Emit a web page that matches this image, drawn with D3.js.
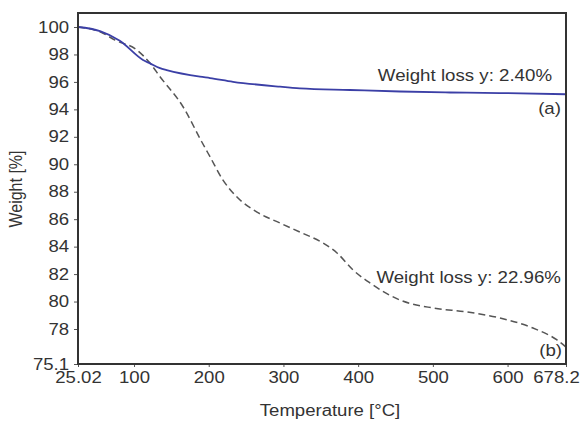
<!DOCTYPE html>
<html>
<head>
<meta charset="utf-8">
<script src="https://cdn.jsdelivr.net/npm/d3@7"></script>
<style>
  body { margin: 0; background: #fff; }
  text { font-family: "Liberation Sans", Arial, sans-serif; fill: #333; }
</style>
</head>
<body>
<svg id="chart" width="583" height="423"></svg>
<script>
// TGA curves: temperature (°C) vs. remaining weight (%)
const tempA   = [25.02, 54.5, 81, 112, 121.4, 134.8, 143.7, 188.3, 201.7, 232.5, 295.4, 322, 389, 456, 523, 590, 678.2];
const weightA = [100, 99.7, 99.0, 97.6, 97.35, 97.0, 96.86, 96.38, 96.28, 96.01, 95.65, 95.53, 95.41, 95.3, 95.23, 95.19, 95.1];

const tempB   = [25.02, 54.5, 74.5, 104, 121.4, 134.8, 165.6, 190.6, 201.7, 219.1, 237.8, 264.6, 295.4, 322.2, 353, 371.7, 393.1, 415.9, 456, 500.2, 545.7, 589.9, 634, 666.2, 678.2];
const weightB = [100, 99.65, 99.05, 98.32, 97.37, 96.38, 94.19, 91.64, 90.55, 88.85, 87.61, 86.52, 85.72, 85.06, 84.26, 83.54, 82.3, 81.35, 80.11, 79.53, 79.24, 78.8, 78.07, 77.09, 76.5];

const xTicks = [25.02, 100, 200, 300, 400, 500, 600, 678.2];
const yTicks = [100, 98, 96, 94, 92, 90, 88, 86, 84, 82, 80, 78, 75.1];

const annotations = [
  { text: "Weight loss y: 2.40%",  t: 659.5, w: 96.06, dx: 0,  size: 17, k: 1.1 },
  { text: "(a)",                   t: 678.2, w: 93.66, dx: -5, size: 17, k: 1.1 },
  { text: "Weight loss y: 22.96%", t: 678.2, w: 81.35, dx: -5, size: 17, k: 1.1 },
  { text: "(b)",                   t: 678.2, w: 75.76, dx: -4, size: 17, k: 1.1 }
];

const svg = d3.select("#chart");
const plotL = 78, plotR = 566, plotT = 13, plotB = 364;
const fs = 16;    // axis label size
const kx = 1.16;  // horizontal glyph stretch of the axis labels

const x = d3.scaleLinear().domain([25.02, 678.2]).range([plotL, plotR]);
// the axis compresses its last segment between 78 and the 75.1 minimum
const y = d3.scaleLinear().domain([75.1, 78, 101.02]).range([plotB, 329, plotT]);

function stretch(sel, k) {
  sel.each(function (d) {
    const t = d3.select(this);
    const ax = +(t.attr("x") || 0);
    const s = k || (d && d.k) || kx;
    t.attr("transform", `translate(${ax},0) scale(${s},1) translate(${-ax},0)`);
  });
}

// axes
const xAxis = svg.append("g")
  .attr("transform", `translate(0,${plotB})`)
  .call(d3.axisBottom(x).tickValues(xTicks).tickSize(3).tickPadding(5).tickFormat(d => String(d)));
const yAxis = svg.append("g")
  .attr("transform", `translate(${plotL},0)`)
  .call(d3.axisLeft(y).tickValues(yTicks).tickSize(4).tickPadding(5).tickFormat(d => String(d)));

[xAxis, yAxis].forEach(g => {
  g.select(".domain").remove();
  g.selectAll(".tick line").attr("stroke", "#555").attr("stroke-width", 1);
  g.selectAll(".tick text")
    .attr("font-size", fs)
    .attr("font-family", "Liberation Sans, Arial, sans-serif")
    .attr("fill", "#333");
});
// the last temperature label is pulled inside the frame edge
xAxis.selectAll(".tick text")
  .filter(d => d === xTicks[xTicks.length - 1])
  .attr("x", -10);
xAxis.selectAll(".tick text").call(stretch, kx);
yAxis.selectAll(".tick text").call(stretch, kx);

// curve (b): dashed grey
const line = d3.line().x(d => x(d[0])).y(d => y(d[1])).curve(d3.curveMonotoneX);
svg.append("path")
  .datum(d3.zip(tempB, weightB))
  .attr("d", line)
  .attr("fill", "none")
  .attr("stroke", "#555")
  .attr("stroke-width", 1.5)
  .attr("stroke-dasharray", "7,4");

// curve (a): solid blue
svg.append("path")
  .datum(d3.zip(tempA, weightA))
  .attr("d", line)
  .attr("fill", "none")
  .attr("stroke", "#3b3fa6")
  .attr("stroke-width", 1.8);

// plot frame
svg.append("rect")
  .attr("x", plotL).attr("y", plotT)
  .attr("width", plotR - plotL).attr("height", plotB - plotT)
  .attr("fill", "none")
  .attr("stroke", "#333")
  .attr("stroke-width", 2);

// annotations
svg.selectAll("text.note")
  .data(annotations)
  .join("text")
  .attr("class", "note")
  .attr("x", d => x(d.t) + d.dx)
  .attr("y", d => y(d.w))
  .attr("text-anchor", "end")
  .attr("font-size", d => d.size)
  .text(d => d.text)
  .call(stretch);

// axis titles
svg.append("text")
  .attr("x", 330)
  .attr("y", 416)
  .attr("text-anchor", "middle")
  .attr("font-size", fs)
  .text("Temperature [°C]")
  .call(stretch, kx);

svg.append("text")
  .attr("transform", `translate(22,189) scale(${kx},1) rotate(-90)`)
  .attr("text-anchor", "middle")
  .attr("font-size", fs)
  .text("Weight [%]");
</script>
</body>
</html>
